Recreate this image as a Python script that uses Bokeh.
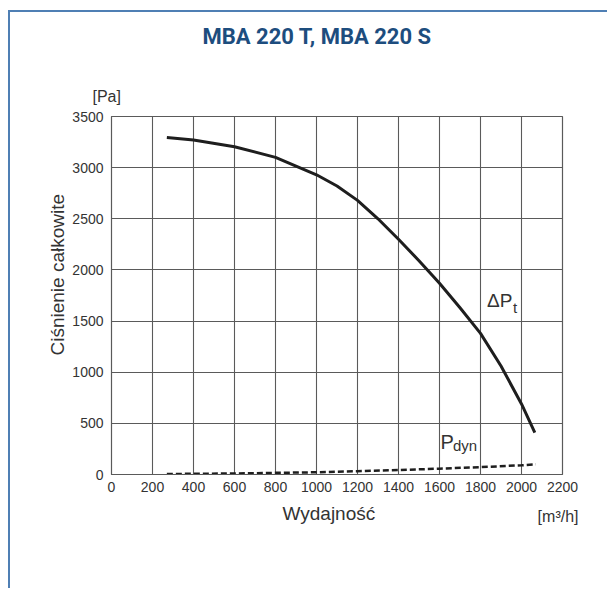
from bokeh.plotting import figure
from bokeh.models import Label, Range1d, FixedTicker, Title
from bokeh.embed import file_html
from bokeh.resources import INLINE

# Data
flow_dp = [270, 400, 600, 800, 1000, 1100, 1200, 1300, 1400, 1500, 1600, 1700, 1800, 1900, 2000, 2065]
dp_total = [3295, 3270, 3205, 3100, 2930, 2820, 2680, 2500, 2300, 2090, 1870, 1630, 1380, 1060, 690, 410]
flow_dyn = [270, 600, 1000, 1200, 1400, 1600, 1800, 2000, 2070]
p_dyn = [5, 10, 22, 32, 44, 57, 72, 90, 100]
x_ticks = [0, 200, 400, 600, 800, 1000, 1200, 1400, 1600, 1800, 2000, 2200]
y_ticks = [0, 500, 1000, 1500, 2000, 2500, 3000, 3500]

title_text = "MBA 220 T, MBA 220 S"
x_label = "Wydajność"
y_label = "Ciśnienie całkowite"
y_unit = "[Pa]"
x_unit = "[m³/h]"

FONT = "Liberation Sans"
TXT = "#333333"
GRID = "#5a5a5a"
C = "#4f7fb4"

bg = (f"linear-gradient(to bottom, transparent 10px, {C} 10px, {C} 12px, transparent 12px) "
      f"8px 0px / 100% 100% no-repeat, "
      f"linear-gradient(to right, transparent 8px, {C} 8px, {C} 10px, transparent 10px) "
      f"0px 10px / 100% 100% no-repeat, #ffffff")

p = figure(width=607, height=588, output_backend="svg", toolbar_location=None,
           x_range=Range1d(0, 2200), y_range=Range1d(0, 3500),
           min_border_left=111, min_border_right=45, min_border_top=116, min_border_bottom=114,
           styles={"background": bg})
p.background_fill_color = "white"
p.border_fill_alpha = 0
p.outline_line_color = GRID
p.outline_line_width = 1.2

p.xaxis.ticker = FixedTicker(ticks=x_ticks)
p.yaxis.ticker = FixedTicker(ticks=y_ticks)
for ax in (p.xaxis, p.yaxis):
    ax.axis_line_color = GRID
    ax.major_tick_out = 0
    ax.major_tick_in = 0
    ax.minor_tick_out = 0
    ax.minor_tick_in = 0
    ax.major_label_text_font = FONT
    ax.major_label_text_font_size = "14px"
    ax.major_label_text_color = TXT
p.xaxis.major_label_standoff = 7
p.yaxis.major_label_standoff = 8

p.xgrid.ticker = FixedTicker(ticks=x_ticks)
p.ygrid.ticker = FixedTicker(ticks=y_ticks)
p.grid.grid_line_color = GRID
p.grid.grid_line_width = 1.1

p.line(flow_dp, dp_total, line_color="#1e1e1e", line_width=3)
p.line(flow_dyn, p_dyn, line_color="#1e1e1e", line_width=2.5, line_dash="6 3")

# Curve labels
lab = dict(text_font=FONT, text_color=TXT, text_baseline="alphabetic")
p.add_layout(Label(x=1832, y=1700, text="ΔP", text_font_size="19px", **lab))
p.add_layout(Label(x=1958, y=1630, text="t", text_font_size="15px", **lab))
p.add_layout(Label(x=1605, y=313, text="P", text_font_size="20px", **lab))
p.add_layout(Label(x=1666, y=288, text="dyn", text_font_size="15px", **lab))

# Titles and units around the frame
p.add_layout(Title(text=y_unit, align="left", offset=-19, text_font=FONT, text_font_size="16px",
                   text_font_style="normal", text_color=TXT, standoff=24), "above")
p.add_layout(Title(text=title_text, align="left", offset=91, text_font="Roboto",
                   text_font_style="bold", text_font_size="22px", text_color="#1d4d7e",
                   vertical_align="top", standoff=46), "above")
p.add_layout(Title(text=x_label, align="left", offset=171, text_font=FONT, text_font_size="19px",
                   text_font_style="normal", text_color=TXT, standoff=12), "below")
p.add_layout(Title(text=x_unit, align="right", offset=-16, text_font=FONT, text_font_size="16px",
                   text_font_style="normal", text_color=TXT, vertical_align="top",
                   standoff=-44), "below")
p.add_layout(Title(text=y_label, align="left", offset=119, text_font=FONT, text_font_size="19px",
                   text_font_style="normal", text_color=TXT, standoff=4), "left")

open("out.html", "w").write(file_html(p, INLINE))
